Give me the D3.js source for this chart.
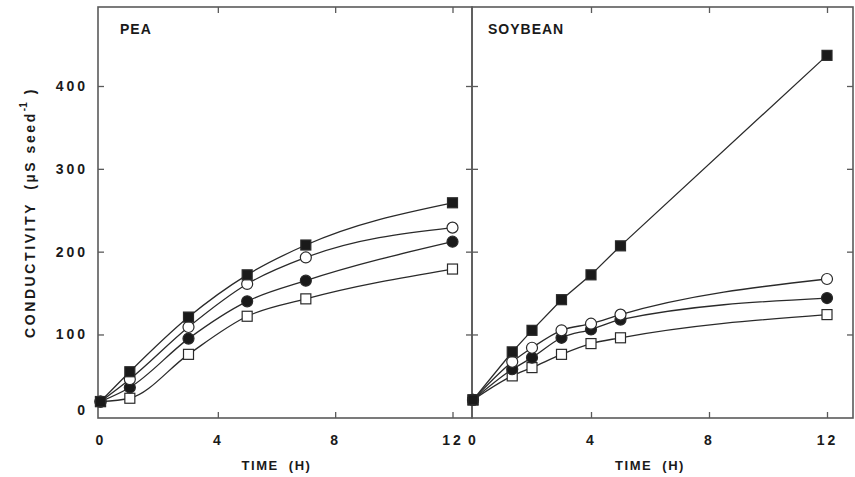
<!DOCTYPE html>
<html>
<head>
<meta charset="utf-8">
<script src="https://cdn.jsdelivr.net/npm/d3@7"></script>
<style>
  body { margin: 0; background: #fff; }
  text { font-family: "Liberation Sans", Arial, sans-serif; font-weight: bold; fill: #1a1a1a; }
</style>
</head>
<body>
<svg width="855" height="477"></svg>
<script>
// Data (conductivity, uS seed-1, vs time in hours)

const peaTimes = [0, 1, 3, 5, 7, 12];
const peaFilledSquare = [19, 55, 121, 172, 208, 259];
const peaOpenCircle = [19, 46, 109, 161, 193, 229];
const peaFilledCircle = [19, 36, 95, 140, 165, 212];
const peaOpenSquare = [19, 23, 76, 122, 143, 179];

const soyTimes = [0, 1.33, 2, 3, 4, 5, 12];
const soyFilledSquare = [21, 79, 105, 142, 172, 207, 437];
const soyOpenCircle = [21, 67, 84, 105, 113, 124, 167];
const soyFilledCircle = [21, 58, 72, 96, 106, 118, 144];
const soyOpenSquare = [21, 50, 60, 76, 89, 96, 124];

const xTicks = [0, 4, 8, 12];
const yTicks = [0, 100, 200, 300, 400];

// Layout

const frameTop = 7, frameBottom = 418;
const ink = "#2a2a2a";
const frameColor = "#5a5a5a";

const svg = d3.select("svg");

const y = d3.scaleLinear().domain([0, 400]).range([417.3, 86]);

const panels = [
    {
        name: "PEA", left: 98, right: 472,
        x: d3.scaleLinear().domain([0, 12]).range([100.5, 452.5]),
        times: peaTimes,
        series: [
            { values: peaOpenSquare, shape: "square", filled: false, curve: d3.curveMonotoneX },
            { values: peaFilledCircle, shape: "circle", filled: true, curve: d3.curveMonotoneX },
            { values: peaOpenCircle, shape: "circle", filled: false, curve: d3.curveMonotoneX },
            { values: peaFilledSquare, shape: "square", filled: true, curve: d3.curveMonotoneX }
        ],
        yLabels: true
    },
    {
        name: "SOYBEAN", left: 472, right: 853,
        x: d3.scaleLinear().domain([0, 12]).range([473, 827]),
        times: soyTimes,
        series: [
            { values: soyOpenSquare, shape: "square", filled: false, curve: d3.curveMonotoneX },
            { values: soyFilledCircle, shape: "circle", filled: true, curve: d3.curveMonotoneX },
            { values: soyOpenCircle, shape: "circle", filled: false, curve: d3.curveMonotoneX },
            { values: soyFilledSquare, shape: "square", filled: true, curve: d3.curveLinear }
        ],
        yLabels: false
    }
];

panels.forEach(p => {
    const g = svg.append("g");

    // frame
    g.append("rect")
        .attr("x", p.left).attr("y", frameTop)
        .attr("width", p.right - p.left).attr("height", frameBottom - frameTop)
        .attr("fill", "none").attr("stroke", frameColor).attr("stroke-width", 1.6);

    // bottom axis with labels
    const xb = g.append("g").attr("transform", `translate(0,${frameBottom})`)
        .call(d3.axisBottom(p.x).tickValues(xTicks).tickSize(-6).tickPadding(17));
    xb.select(".domain").remove();
    xb.selectAll("line").attr("stroke", frameColor).attr("stroke-width", 1.3)
        .filter(d => d === 0).remove();
    xb.selectAll("text").attr("font-size", 14).attr("letter-spacing", 3)
        .attr("font-family", null).style("fill", "#1a1a1a");

    // top axis, ticks only
    const xt = g.append("g").attr("transform", `translate(0,${frameTop})`)
        .call(d3.axisTop(p.x).tickValues(xTicks.filter(d => d > 0)).tickSize(-6).tickFormat(""));
    xt.select(".domain").remove();
    xt.selectAll("line").attr("stroke", frameColor).attr("stroke-width", 1.3);

    // left axis
    const yl = g.append("g").attr("transform", `translate(${p.left},0)`)
        .call(d3.axisLeft(y).tickValues(yTicks).tickSize(-6).tickPadding(10)
            .tickFormat(p.yLabels ? d3.format("d") : ""));
    yl.select(".domain").remove();
    yl.selectAll("line").attr("stroke", frameColor).attr("stroke-width", 1.3);
    yl.selectAll(".tick").filter(d => d === 0).select("line").remove();
    yl.selectAll(".tick").filter(d => d === 0).select("text").attr("dy", "-0.2em");
    yl.selectAll("text").attr("font-size", 14).attr("letter-spacing", 3)
        .attr("font-family", null).style("fill", "#1a1a1a");

    // right axis, ticks only
    const yr = g.append("g").attr("transform", `translate(${p.right},0)`)
        .call(d3.axisRight(y).tickValues(yTicks.filter(d => d > 0)).tickSize(-6).tickFormat(""));
    yr.select(".domain").remove();
    yr.selectAll("line").attr("stroke", frameColor).attr("stroke-width", 1.3);

    // panel title
    g.append("text")
        .attr("x", p.left + (p.name === "PEA" ? 22 : 16)).attr("y", 34)
        .attr("font-size", 14).attr("letter-spacing", 1)
        .text(p.name);

    // x title
    g.append("text")
        .attr("x", p.x(6)).attr("y", 470)
        .attr("text-anchor", "middle")
        .attr("font-size", 13).attr("letter-spacing", 1.5)
        .attr("xml:space", "preserve")
        .text("TIME  (H)");

    // lines
    p.series.forEach(s => {
        const line = d3.line()
            .x((d, i) => p.x(p.times[i]))
            .y(d => y(d))
            .curve(s.curve);
        g.append("path")
            .datum(s.values)
            .attr("d", line)
            .attr("fill", "none")
            .attr("stroke", ink)
            .attr("stroke-width", 1.3);
    });

    // markers
    p.series.forEach(s => {
        const pts = g.selectAll(null).data(s.values).enter();
        if (s.shape === "square") {
            pts.append("rect")
                .attr("x", (d, i) => p.x(p.times[i]) - 5)
                .attr("y", d => y(d) - 5)
                .attr("width", 10).attr("height", 10)
                .attr("fill", s.filled ? "#1a1a1a" : "#fff")
                .attr("stroke", ink).attr("stroke-width", 1.2);
        } else {
            pts.append("circle")
                .attr("cx", (d, i) => p.x(p.times[i]))
                .attr("cy", d => y(d))
                .attr("r", 5.5)
                .attr("fill", s.filled ? "#1a1a1a" : "#fff")
                .attr("stroke", ink).attr("stroke-width", 1.2);
        }
    });
});

// y title
const yTitle = svg.append("text")
    .attr("transform", "translate(35,338) rotate(-90)")
    .attr("font-size", 14).attr("letter-spacing", 2.6);
yTitle.append("tspan").text("CONDUCTIVITY");
yTitle.append("tspan").attr("dx", 12).text("(µS seed");
yTitle.append("tspan").attr("dy", -8).attr("font-size", 10).attr("letter-spacing", 0).text("-1");
yTitle.append("tspan").attr("dy", 8).attr("dx", 8).text(")");
</script>
</body>
</html>
